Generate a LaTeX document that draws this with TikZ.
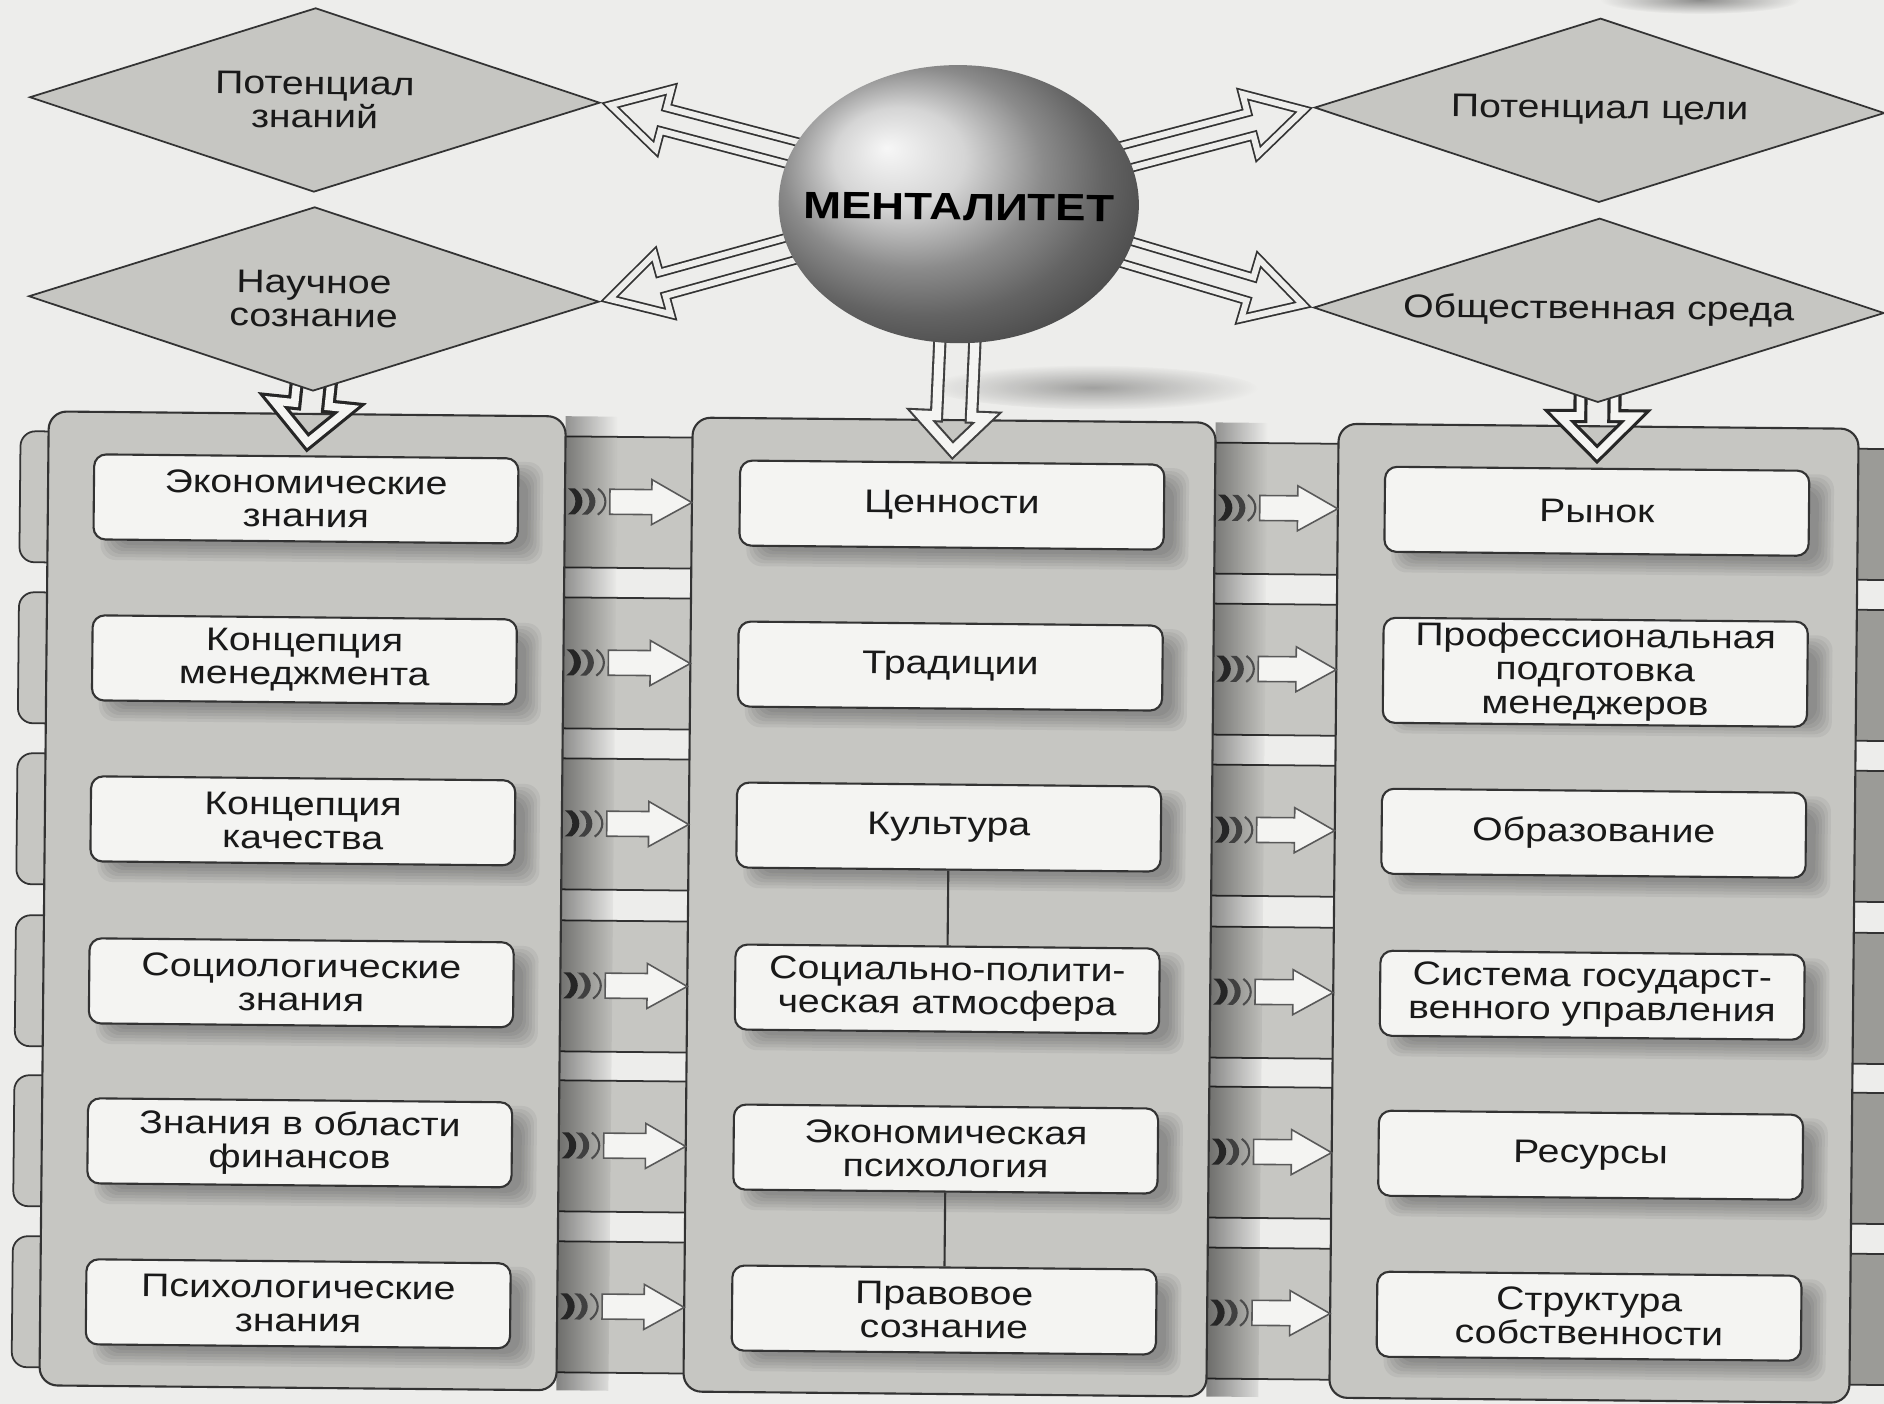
\documentclass[tikz,border=0pt]{standalone}
\usepackage{fontspec}
\setmainfont{Liberation Sans}[FakeStretch=1.2]
\usetikzlibrary{calc,shapes.geometric,fadings}
\definecolor{bgc}{HTML}{EDEDEB}
\definecolor{panelc}{HTML}{C6C6C2}
\definecolor{boxc}{HTML}{F4F4F2}
\definecolor{linec}{HTML}{333333}
\definecolor{tabdark}{HTML}{9B9B97}
\tikzfading[name=fadeR, left color=transparent!0, right color=transparent!100]
\tikzfading[name=blob, inner color=transparent!0, outer color=transparent!100]
\pgfdeclarelayer{back}
\pgfdeclarelayer{mid}
\pgfsetlayers{back,mid,main}
\newcommand\blockarr[6]{%
  \coordinate (ba) at ($(#3)!#6!(#2)$);
  \path[#1] ($(#2)!#4!90:(#3)$) -- ($(ba)!#4!90:(#3)$) -- ($(ba)!#5!90:(#3)$) -- (#3)
    -- ($(ba)!#5!-90:(#3)$) -- ($(ba)!#4!-90:(#3)$) -- ($(#2)!#4!-90:(#3)$) -- cycle;}
\newcommand\curlmarks[2]{%
  \fill[black!85] ({#1},{#2-13}) .. controls ({#1+10},{#2-6}) and ({#1+10},{#2+6}) .. ({#1},{#2+13})
     -- ({#1+7},{#2+13}) .. controls ({#1+17},{#2+6}) and ({#1+17},{#2-6}) .. ({#1+7},{#2-13}) -- cycle;
  \fill[black!75] ({#1+14},{#2-13}) .. controls ({#1+24},{#2-6}) and ({#1+24},{#2+6}) .. ({#1+14},{#2+13})
     -- ({#1+20},{#2+13}) .. controls ({#1+30},{#2+6}) and ({#1+30},{#2-6}) .. ({#1+20},{#2-13}) -- cycle;
  \draw[black!70, line width=0.6pt] ({#1+30},{#2-13}) .. controls ({#1+40},{#2-6}) and ({#1+40},{#2+6}) .. ({#1+30},{#2+13});}
\begin{document}
\begin{tikzpicture}[x=0.01cm,y=-0.01cm,
  txt/.style={font=\fontsize{9.3}{9.5}\selectfont, align=center, text=black!90},
  kbox/.style={txt, draw=linec, line width=0.6pt, fill=boxc, rounded corners=0.12cm,
     minimum width=4.24cm, minimum height=0.85cm, inner sep=0pt, transform shape},
  panel/.style={draw=linec, line width=0.6pt, fill=panelc, rounded corners=0.18cm},
  strip/.style={draw=linec, line width=0.5pt, fill=panelc, rounded corners=0.15cm},
  darktab/.style={draw=linec, line width=0.5pt, fill=tabdark, rounded corners=0.15cm},
  dia/.style={txt, shape=diamond, draw=linec, line width=0.5pt, fill=panelc, shape aspect=3.1,
     minimum width=5.7cm, minimum height=1.84cm, inner sep=0pt, transform shape},
  sph/.style={ellipse, minimum width=3.6cm, minimum height=2.78cm, inner sep=0pt,
     shading=ball, ball color=black!22, transform shape},
  sphtxt/.style={font=\bfseries\fontsize{10.8}{12}\selectfont, text=black, inner sep=0pt, transform shape},
  dblarrow/.style={draw=linec, line width=0.5pt, double=bgc, double distance=1.7pt},
  downarrow/.style={draw=black!75, line width=0.6pt, double=boxc, double distance=2.6pt},
  thkarrow/.style={draw=black!85, line width=0.9pt, double=boxc, double distance=2.2pt},
  flatarrow/.style={draw=black!65, line width=0.45pt, fill=boxc},
  link/.style={draw=linec, line width=0.6pt}]
\useasboundingbox (0,0) rectangle (1884,1404);
\begin{pgfonlayer}{back}
  \fill[bgc] (-60,-60) rectangle (1950,1470);
  \fill[black, opacity=0.4, path fading=blob] (1700,0) ellipse [x radius=100, y radius=14];
\end{pgfonlayer}
\begin{scope}[rotate around={-0.55:(942,702)}]
\begin{pgfonlayer}{back}
  \fill[black, opacity=0.32, path fading=blob] (1090,386) ellipse [x radius=165, y radius=22];
  \foreach \y in {505,666,827,989,1149,1310}{
    \path[strip] (18,{\y-65}) rectangle (1845,{\y+66});
    \path[darktab] (1820,{\y-65}) rectangle (1925,{\y+66});
  }
  \fill[black, opacity=0.45, path fading=fadeR] (563,420) rectangle (615,1394);
  \fill[black, opacity=0.45, path fading=fadeR] (1213,420) rectangle (1265,1394);
  \path[panel] (46,420) rectangle (563,1394);
  \path[panel] (690,420) rectangle (1213,1394);
  \path[panel] (1336,420) rectangle (1856,1394);
\end{pgfonlayer}

% diamonds and sphere
\node[dia] (D1) at (309,106) {Потенциал\\знаний};
\node[dia] (D2) at (310,305) {Научное\\сознание};
\node[dia] (D3) at (1594,104) {Потенциал цели};
\node[dia] (D4) at (1595,304) {Общественная среда};
\node[sph] (S) at (954,204) {};
\node[sphtxt] (ST) at (954,207) {МЕНТАЛИТЕТ};

% column boxes
\node[kbox] (L1) at (304,505) {Экономические\\знания};
\node[kbox] (L2) at (304,666) {Концепция\\менеджмента};
\node[kbox] (L3) at (304,827) {Концепция\\качества};
\node[kbox] (L4) at (304,989) {Социологические\\знания};
\node[kbox] (L5) at (304,1149) {Знания в области\\финансов};
\node[kbox] (L6) at (304,1310) {Психологические\\знания};
\node[kbox] (M1) at (950,505) {Ценности};
\node[kbox] (M2) at (950,666) {Традиции};
\node[kbox] (M3) at (950,827) {Культура};
\node[kbox] (M4) at (950,989) {Социально-полити-\\ческая атмосфера};
\node[kbox] (M5) at (950,1149) {Экономическая\\психология};
\node[kbox] (M6) at (950,1310) {Правовое\\сознание};
\node[kbox] (R1) at (1595,505) {Рынок};
\node[kbox, minimum height=1.05cm] (R2) at (1595,666) {Профессиональная\\подготовка\\менеджеров};
\node[kbox] (R3) at (1595,827) {Образование};
\node[kbox] (R4) at (1595,989) {Система государст-\\венного управления};
\node[kbox] (R5) at (1595,1149) {Ресурсы};
\node[kbox] (R6) at (1595,1310) {Структура\\собственности};

\draw[link] (M3.south) -- (M4.north);
\draw[link] (M5.south) -- (M6.north);

\begin{pgfonlayer}{mid}
  % soft shadows under boxes
  \foreach \cx in {304,950,1595}{
    \foreach \cy in {505,666,827,989,1149,1310}{
      \foreach \e in {0,3,...,15}{
        \fill[black, opacity=0.05, rounded corners=0.15cm]
          ({\cx-212+22-\e},{\cy-42+18-\e}) rectangle ({\cx+212+10+\e},{\cy+42+6+\e});
      }}}
  % arrows from the sphere
  \coordinate (a1t) at (805,159);
  \coordinate (a1p) at ($(D1.east)!0.10cm!(a1t)$);
  \blockarr{dblarrow}{a1t}{a1p}{0.12cm}{0.31cm}{0.55cm}
  \coordinate (a2t) at (805,245);
  \coordinate (a2p) at ($(D2.east)!0.10cm!(a2t)$);
  \blockarr{dblarrow}{a2t}{a2p}{0.12cm}{0.31cm}{0.55cm}
  \coordinate (a3t) at (1103,160);
  \coordinate (a3p) at ($(D3.west)!0.10cm!(a3t)$);
  \blockarr{dblarrow}{a3t}{a3p}{0.12cm}{0.31cm}{0.55cm}
  \coordinate (a4t) at (1103,245);
  \coordinate (a4p) at ($(D4.west)!0.10cm!(a4t)$);
  \blockarr{dblarrow}{a4t}{a4p}{0.12cm}{0.31cm}{0.55cm}
  % arrows down into the columns
  \coordinate (d1t) at ($(D2.south)!-0.25cm!(L1.north)$);
  \coordinate (d1p) at ($(D2.south)!0.51cm!(L1.north)$);
  \blockarr{thkarrow}{d1t}{d1p}{0.17cm}{0.38cm}{0.38cm}
  \coordinate (d2t) at ($(D4.south)!-0.25cm!(R1.north)$);
  \coordinate (d2p) at ($(D4.south)!0.51cm!(R1.north)$);
  \blockarr{thkarrow}{d2t}{d2p}{0.17cm}{0.38cm}{0.38cm}
  \coordinate (d3t) at ($(S.south)!-0.15cm!(M1.north)$);
  \coordinate (d3p) at ($(M1.north)!0.11cm!(S.south)$);
  \blockarr{downarrow}{d3t}{d3p}{0.175cm}{0.33cm}{0.34cm}
  % arrows between the columns
  \foreach \y in {505,666,827,989,1149,1310}{
    \curlmarks{566}{\y}
    \coordinate (fa) at (608,\y);
    \coordinate (fb) at (690,\y);
    \blockarr{flatarrow}{fa}{fb}{0.125cm}{0.225cm}{0.40cm}
    \curlmarks{1216}{\y}
    \coordinate (ga) at (1258,\y);
    \coordinate (gb) at (1336,\y);
    \blockarr{flatarrow}{ga}{gb}{0.125cm}{0.225cm}{0.40cm}
  }
\end{pgfonlayer}
\end{scope}
\end{tikzpicture}
\end{document}
